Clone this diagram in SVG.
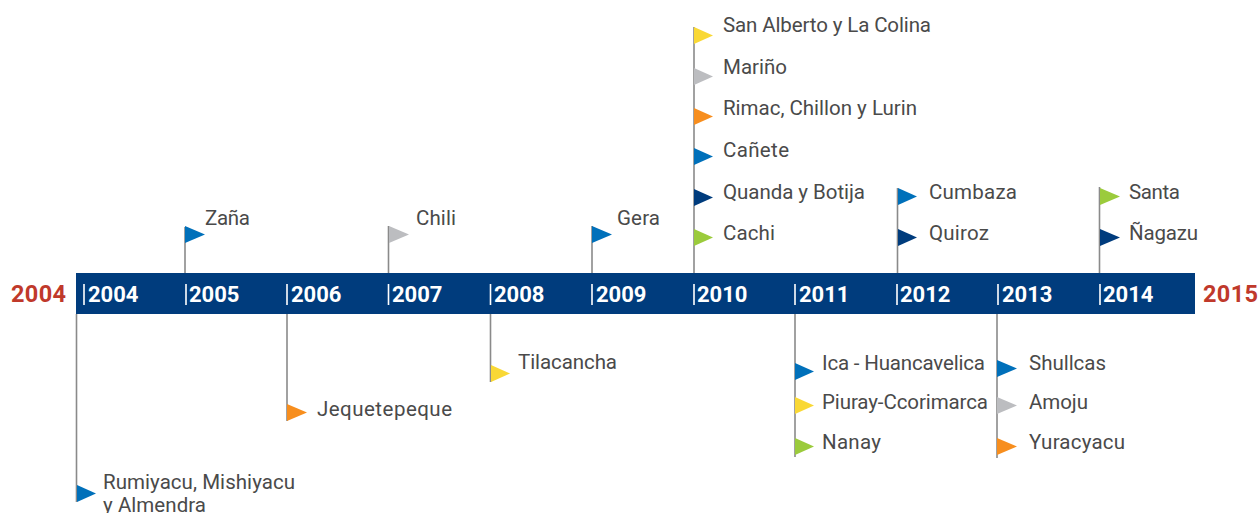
<svg xmlns="http://www.w3.org/2000/svg" width="1260" height="513" viewBox="0 0 1260 513">
<style>
text{font-family:Roboto,"Liberation Sans",sans-serif}
.l{font-size:20.500px;fill:#4a4a4a}
.y{font-size:22px;font-weight:700;fill:#fff}
.e{font-size:23.500px;font-weight:700;fill:#c0392b}
.s{stroke:#8a8a8a;stroke-width:1.6;fill:none}
.t{stroke:#fff;stroke-width:1.6}
.blue{fill:#0070ba}.navy{fill:#003c7d}.yel{fill:#f9d835}.gry{fill:#bcbdc0}.org{fill:#f78e1e}.grn{fill:#9bcb3c}
</style>
<rect id="bar" x="76" y="273" width="1119" height="41" fill="#003c7d"/>
<g id="connectors">
<path class="s" d="M76.500 314V502"/>
<path class="s" d="M185 273V227"/>
<path class="s" d="M287 314V421"/>
<path class="s" d="M388.500 273V226"/>
<path class="s" d="M490.500 314V382"/>
<path class="s" d="M592 273V226"/>
<path class="s" d="M694 273V27"/>
<path class="s" d="M795 314V457"/>
<path class="s" d="M897.500 273V188"/>
<path class="s" d="M997 314V458"/>
<path class="s" d="M1099.500 273V187"/>
</g>
<g id="axis">
<text class="e" x="11" y="302" textLength="55">2004</text>
<text class="e" x="1203" y="302" textLength="55">2015</text>
<path class="t" d="M84 284v21M186 284v21M287 284v21M388.500 284v21M490.500 284v21M592 284v21M694 284v21M795 284v21M897 284v21M998 284v21M1100 284v21"/>
<text class="y" x="88" y="302">2004</text><text class="y" x="189" y="302">2005</text><text class="y" x="291" y="302">2006</text><text class="y" x="392" y="302">2007</text><text class="y" x="494" y="302">2008</text><text class="y" x="596" y="302">2009</text><text class="y" x="697" y="302">2010</text><text class="y" x="799" y="302">2011</text><text class="y" x="900" y="302">2012</text><text class="y" x="1002" y="302">2013</text><text class="y" x="1103" y="302">2014</text>
</g>
<g id="n-rumiyacu"><polygon class="blue" points="77,485 96,493.500 77,502"/><text class="l" x="103" y="489" textLength="192">Rumiyacu, Mishiyacu</text><text class="l" x="103" y="512" textLength="103">y Almendra</text></g>
<g id="n-zana"><polygon class="blue" points="185,226 205,234.500 185,243"/><text class="l" x="205" y="225" textLength="45">Zaña</text></g>
<g id="n-jequetepeque"><polygon class="org" points="287,404 307,412.500 287,421"/><text class="l" x="317" y="416" textLength="135">Jequetepeque</text></g>
<g id="n-chili"><polygon class="gry" points="389,226 409,234.500 389,243"/><text class="l" x="416" y="225" textLength="40">Chili</text></g>
<g id="n-tilacancha"><polygon class="yel" points="491,365 510,373.500 491,382"/><text class="l" x="518" y="369" textLength="99">Tilacancha</text></g>
<g id="n-gera"><polygon class="blue" points="592,226 612,234.500 592,243"/><text class="l" x="617" y="225" textLength="43">Gera</text></g>
<g id="n-sanalberto"><polygon class="yel" points="694,27 713,35.500 694,44"/><text class="l" x="723" y="32" textLength="208">San Alberto y La Colina</text></g>
<g id="n-marino"><polygon class="gry" points="694,68 713,76.500 694,85"/><text class="l" x="723" y="74" textLength="64">Mariño</text></g>
<g id="n-rimac"><polygon class="org" points="694,108 713,116.500 694,125"/><text class="l" x="723" y="115" textLength="194">Rimac, Chillon y Lurin</text></g>
<g id="n-canete"><polygon class="blue" points="694,148 713,156.500 694,165"/><text class="l" x="723" y="157" textLength="66">Cañete</text></g>
<g id="n-quanda"><polygon class="navy" points="694,189 713,197.500 694,206"/><text class="l" x="723" y="199" textLength="142">Quanda y Botija</text></g>
<g id="n-cachi"><polygon class="grn" points="694,229 713,237.500 694,246"/><text class="l" x="723" y="240" textLength="52">Cachi</text></g>
<g id="n-ica"><polygon class="blue" points="795,363 814,371.500 795,380"/><text class="l" x="822" y="370" textLength="163">Ica - Huancavelica</text></g>
<g id="n-piuray"><polygon class="yel" points="795,397 814,405.500 795,414"/><text class="l" x="822" y="409" textLength="166">Piuray-Ccorimarca</text></g>
<g id="n-nanay"><polygon class="grn" points="795,438 814,446.500 795,455"/><text class="l" x="822" y="449" textLength="59">Nanay</text></g>
<g id="n-cumbaza"><polygon class="blue" points="898,188 917,196.500 898,205"/><text class="l" x="929" y="199" textLength="88">Cumbaza</text></g>
<g id="n-quiroz"><polygon class="navy" points="898,229 917,237.500 898,246"/><text class="l" x="929" y="240" textLength="60">Quiroz</text></g>
<g id="n-shullcas"><polygon class="blue" points="997,360 1017,368.500 997,377"/><text class="l" x="1029" y="370" textLength="77">Shullcas</text></g>
<g id="n-amoju"><polygon class="gry" points="997,397 1017,405.500 997,414"/><text class="l" x="1029" y="409" textLength="59">Amoju</text></g>
<g id="n-yuracyacu"><polygon class="org" points="997,438 1017,446.500 997,455"/><text class="l" x="1029" y="449" textLength="96">Yuracyacu</text></g>
<g id="n-santa"><polygon class="grn" points="1100,188 1120,196.500 1100,205"/><text class="l" x="1129" y="199" textLength="51">Santa</text></g>
<g id="n-nagazu"><polygon class="navy" points="1100,229 1120,237.500 1100,246"/><text class="l" x="1129" y="240" textLength="69">Ñagazu</text></g>
</svg>
